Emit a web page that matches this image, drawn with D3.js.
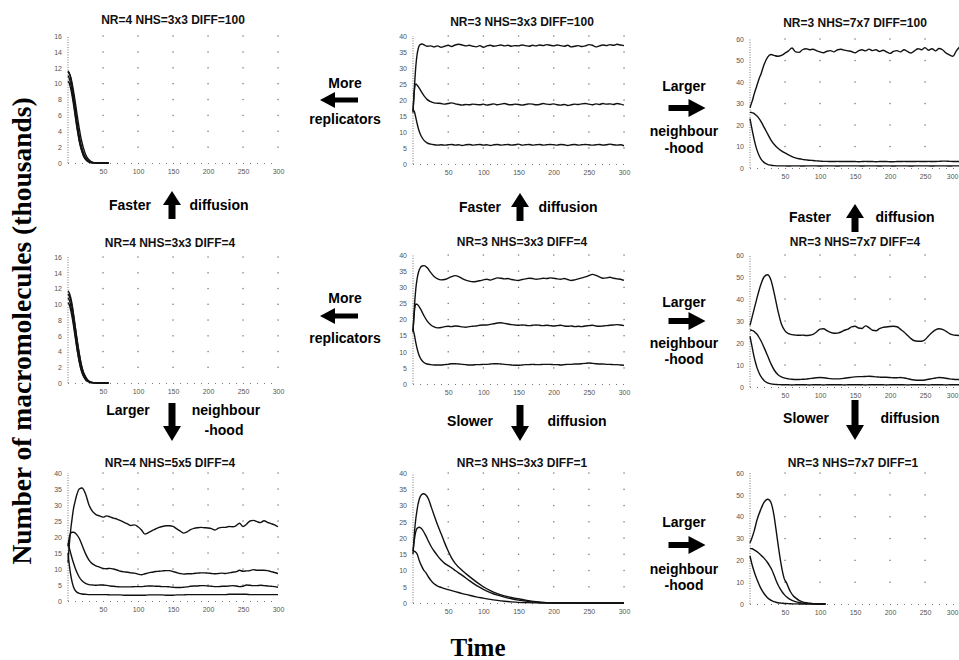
<!DOCTYPE html>
<html><head><meta charset="utf-8">
<script src="https://cdn.jsdelivr.net/npm/d3@7"></script>
<style>
html,body{margin:0;padding:0;background:#fff;}
svg{display:block;}
</style></head>
<body><svg id="fig" width="959" height="660"></svg>
<script>
// ---- axis ticks ----
const timeTicks = [50, 100, 150, 200, 250, 300];
const yTicks16 = [0, 2, 4, 6, 8, 10, 12, 14, 16];
const yTicks40 = [0, 5, 10, 15, 20, 25, 30, 35, 40];
const yTicks60 = [0, 10, 20, 30, 40, 50, 60];

// ---- sample times ----
const tDie = [0,2,4,6,8,10,12,14,16,18,20,22,25,28,32,36,40,45,50,58];
const tRun = [0,2,4,6,8,10,13,16,20,25,30,35,40,
  45,50,55,60,65,70,75,80,85,90,
  95,100,105,110,115,120,125,130,135,140,
  145,150,155,160,165,170,175,180,185,190,
  195,200,205,210,215,220,225,230,235,240,
  245,250,255,260,265,270,275,280,285,290,295,300];
const tDecay3 = [0,3,6,9,12,15,18,22,26,30,35,40,45,50,55,60,70,80,90,100,110,120,130,140,150,160,175,190,200,250,300];
const tDecay7 = [0,3,6,10,15,20,25,28,31,34,37,40,43,46,49,52,55,58,62,66,70,75,80,85,90,100,108];

// ---- NR=4 NHS=3x3 DIFF=100 ----
const r4d100a = [11.6,11.3,10.6,9.6,8.4,7.1,5.8,4.6,3.5,2.6,1.9,1.3,0.7,0.35,0.12,0.04,0.02,0,0,0];
const r4d100b = [11.5,11.2,10.8,10.0,9.0,7.9,6.7,5.5,4.4,3.4,2.6,1.9,1.1,0.6,0.25,0.08,0.03,0.01,0,0];
const r4d100c = [11.0,10.6,9.9,8.9,7.7,6.4,5.1,3.9,2.9,2.1,1.5,1.0,0.5,0.25,0.08,0.03,0.01,0,0,0];
const r4d100d = [10.3,10.0,9.3,8.4,7.3,6.1,4.9,3.8,2.8,2.0,1.4,0.9,0.45,0.2,0.06,0.02,0,0,0,0];

// ---- NR=3 NHS=3x3 DIFF=100 ----
const r3d100a = [16.5,24,30.5,34.5,36.5,37.3,37.5,37.2,36.8,36.9,36.6,36.9,36.5,
  36.8,37.1,36.7,37.2,37.4,37.2,36.9,37.1,36.8,36.6,
  37,36.5,36.9,37.1,36.8,37,37.2,36.9,37.1,36.8,
  37,36.9,37.2,37,36.8,37.1,36.9,37.2,37,37.3,
  37.1,36.9,37.2,37,36.8,37.1,36.6,36.8,37,36.7,
  36.9,37.3,37.1,36.6,36.9,37.2,37,37.3,37.1,37.4,37.2,37.0];
const r3d100b = [16,23,25,24.6,24,23.3,22.2,21.2,20.2,19.5,19.1,19,18.9,
  18.7,18.9,19.1,18.8,18.6,18.4,18.6,18.5,18.7,18.6,
  18.5,18.7,18.4,18.6,18.8,18.5,18.7,18.9,18.6,18.5,
  18.7,18.6,18.4,18.6,18.8,18.7,18.5,18.6,18.9,18.7,
  18.6,18.8,18.5,18.4,18.6,18.3,18.5,18.7,18.6,18.8,
  18.9,18.7,18.5,18.8,18.6,18.9,18.7,18.8,18.6,18.9,18.7,18.4];
const r3d100c = [17,16.3,14.5,12.5,10.8,9.5,8.2,7.3,6.6,6.2,6,5.9,6,
  5.9,6,6.1,5.9,6,5.8,6,6.1,5.9,6,
  6.1,5.9,6,5.8,6,6.1,5.9,6,6.1,5.9,
  6,6.2,5.9,6,6.1,5.9,6,6.1,5.9,6,
  6.1,6,5.9,6.1,6,5.8,6,6.1,5.9,6,
  6.1,6,5.9,6,6.1,5.9,6,6.2,6,5.9,6,5.7];

// ---- NR=3 NHS=7x7 DIFF=100 ----
const n7d100a = [28,30,32,34.5,36.5,38.5,41.5,44,48,51.5,52.8,52.3,52,
  52.4,53.4,54.5,55.8,54,53.8,55,55.5,55,55.2,
  54.6,54,53.6,54.3,54.6,54,55,55.2,54.8,54.5,
  54.2,53.6,54.5,55,54.5,55.3,54.6,55,54.2,54.8,
  54,53.3,54.2,54.6,54,55,54.2,53.5,54.5,55.5,
  55,56,54.8,55.5,54.5,55.6,55,53.5,52.6,52,54.6,56.5];
const n7d100b = [26,25.8,25.6,25.3,24.8,24.2,23,21.5,19,16,13,10.8,9.2,
  8,7,6.1,5.3,4.7,4.3,4,3.8,3.6,3.5,
  3.3,3.2,3.1,3.1,3,3,3.1,3,3,3,
  3,3,2.9,3,3.1,3,3,2.9,3,3,
  3,2.9,2.9,3,3,3.1,3,3,3,3.1,
  3,3,3.1,3,3,3.1,3.2,3.2,3.1,3,3,3];
const n7d100c = [23,19.5,16.2,13.2,10.5,8.3,5.8,4,2.6,1.7,1.3,1.1,1,
  1,1,0.9,1,1,1,0.9,1,1,1,
  1,0.9,1,1,1,1,0.9,1,1,1,
  1,1,1,0.9,1,1,1,1,0.9,1,
  1,1,0.9,1,1,1,1,0.9,1,1,
  1,1,1,0.9,1,1,1,1,0.9,1,1,1];

// ---- NR=4 NHS=3x3 DIFF=4 ----
const r4d4a = [11.7,11.4,10.8,9.9,8.7,7.4,6.1,4.9,3.8,2.8,2.0,1.4,0.8,0.4,0.15,0.05,0.02,0.01,0,0];
const r4d4b = [11.3,11.0,10.5,9.6,8.5,7.3,6.0,4.8,3.7,2.7,1.9,1.3,0.75,0.38,0.14,0.05,0.02,0,0,0];
const r4d4c = [10.8,10.5,9.8,8.8,7.6,6.3,5.0,3.8,2.8,2.0,1.4,0.95,0.5,0.24,0.08,0.03,0.01,0,0,0];
const r4d4d = [10.2,9.9,9.2,8.3,7.2,6.0,4.8,3.7,2.7,1.9,1.3,0.85,0.42,0.19,0.06,0.02,0,0,0,0];

// ---- NR=3 NHS=3x3 DIFF=4 ----
const r3d4a = [16,24,29.5,32.8,34.8,35.9,36.6,36.7,36.1,34.6,33.3,32.6,32.3,
  32.4,32.8,33.3,33.6,33.3,32.7,32.2,31.9,31.7,31.8,
  32,32.3,32.5,32.2,32.6,32.9,32.8,32.6,32.7,32.4,
  32.2,32.1,32.4,32.6,32.8,32.7,32.5,32.6,32.8,32.7,
  32.9,32.8,32.6,32.5,32.7,32.4,32.1,32.3,32.6,32.9,
  33.2,33.6,34,33.7,33.2,32.8,32.9,33.1,32.8,32.6,32.5,32.1];
const r3d4b = [16.5,22.5,24.8,24.7,24.2,23.5,22.3,21,19.6,18.4,17.7,17.4,17.5,
  17.8,17.9,17.8,18,17.9,17.7,17.6,17.8,17.9,18,
  18.2,18.3,18.3,18.5,18.7,18.9,19,18.8,18.6,18.4,
  18.3,18.2,18.3,18.2,18.1,18.2,18.3,18.2,18.1,18.2,
  18.1,18,18.1,18.2,18,17.9,18,17.8,17.9,17.8,
  18,18.1,18.2,18,17.9,18,18.1,18.2,18.3,18.4,18.3,18.1];
const r3d4c = [17,15.2,12.8,10.8,9.3,8.2,7.2,6.6,6.2,6,5.9,5.9,5.9,
  6,6.1,6.3,6.3,6.2,6.1,6,5.9,5.9,6,
  6,6.1,6.1,6.2,6.3,6.3,6.2,6.1,6,5.9,
  5.8,5.8,5.9,6,6,6.1,6,6,6.1,6.1,
  6.1,6,6,5.9,6,6.1,6.1,6.2,6.2,6.3,
  6.4,6.5,6.4,6.3,6.2,6.2,6.1,6.1,6,6,5.9,5.8];

// ---- NR=3 NHS=7x7 DIFF=4 ----
const n7d4a = [28,30.5,33,35.5,38,40.5,44,47,50,51,48.5,42,34.5,
  28.5,25.5,24.3,23.8,23.6,23.5,23.6,23.4,23.5,23.9,
  25,26.3,26.5,25.6,24.8,24.4,24.5,25,25.8,26.3,
  27.3,27.6,26.8,26.6,27.8,27,25.8,25.6,26.5,27.1,
  27.3,27.5,27.6,27.4,26.2,25,23.5,22,21,20.8,
  20.8,21.5,23.2,24.8,26,26.5,26.2,25.3,24.3,23.7,23.5,23.4];
const n7d4b = [26,25.8,25.6,25.2,24.6,24,22.5,20.8,18,14.3,10.5,7.5,5.6,
  4.6,4,3.7,3.5,3.4,3.4,3.5,3.6,3.8,4,
  4.2,4.3,4.2,4,3.8,3.7,3.7,3.8,4,4.2,
  4.4,4.6,4.7,4.7,4.8,4.9,4.8,4.6,4.5,4.4,
  4.4,4.3,4.2,4.2,4.3,4.1,3.8,3.4,3.2,3.1,
  3.1,3.2,3.5,3.8,4.1,4.3,4.2,4,3.7,3.5,3.4,3.4];
const n7d4c = [23,19.8,16.5,13.5,11,8.8,6.4,4.6,3,1.9,1.4,1.2,1.1,
  1,1,1,0.9,1,1,1,1,0.9,1,
  1,1,0.9,1,1,1,1,1,0.9,1,
  1,1,1,1,0.9,1,1,1,1,1,
  0.9,1,1,1,1,1,0.9,1,1,1,
  1,1,0.9,1,1,1,1,0.9,1,1,1,1];

// ---- NR=4 NHS=5x5 DIFF=4 ----
const r4n5a = [12,18,22.5,26,29,31,33.5,35,35.3,33.5,30,28,27,
  26.6,26.2,26.6,26.3,25.9,25.6,25.1,24.6,24.1,23.6,
  23.8,23.2,22.2,20.9,21.4,22,22.5,23,23.3,23.5,
  23.5,23.3,22.6,21.9,21.2,21.6,22.3,22.7,22.9,23.0,
  22.9,22.8,22.6,22.2,22.8,23,23,23.3,23.2,23.5,
  24.3,23.3,24,25,25.2,24.8,24.5,25.1,24.6,24.2,23.8,23.2];
const r4n5b = [17,20,21.2,21.5,21.5,21.3,20.6,19.6,17.5,14.8,12.8,11.6,11,
  10.6,10.2,10.1,10.2,10,9.7,9.3,9.1,9,8.8,
  8.7,8.4,8.2,8.5,8.8,9,9.2,9.3,9.4,9.5,
  9.5,9.2,8.9,8.6,8.4,8.5,8.5,8.6,8.7,8.8,
  8.8,8.7,8.6,8.5,8.6,8.7,8.6,8.8,9,9.1,
  9.6,9.3,9.4,9.5,9.8,9.6,9.6,9.6,9.5,9.2,8.9,8.6];
const r4n5c = [18,16.5,14.8,13.2,11.8,10.5,8.8,7.5,6.3,5.5,5.1,5,4.9,
  5,5,4.9,4.7,4.6,4.5,4.4,4.4,4.4,4.4,
  4.5,4.5,4.5,4.6,4.7,4.7,4.6,4.6,4.5,4.5,
  4.4,4.3,4.2,4.2,4.3,4.4,4.6,4.7,4.7,4.8,
  4.8,4.7,4.6,4.5,4.5,4.6,4.6,4.7,4.8,4.7,
  4.5,4.6,5,4.9,4.8,4.8,4.9,4.8,4.7,4.6,4.5,4.3];
const r4n5d = [15,11,8,5.8,4.3,3.4,2.7,2.4,2.2,2.1,2,2,2,
  2,2,2,1.9,1.9,1.9,1.9,1.8,1.8,1.8,
  1.8,1.8,1.8,1.8,1.9,1.9,1.9,1.9,1.9,1.8,
  1.8,1.8,1.9,1.9,1.9,2,2,2,2,2,
  2,2,2,2,2,2,2,2.1,2.1,2.1,
  2.1,2.1,2.1,2,2,2,2,2,2,2,2,2];

// ---- NR=3 NHS=3x3 DIFF=1 ----
const r3d1a = [15,24,29,32,33.3,33.6,33.3,32,29.5,27,24,21.3,18.5,16,13.8,12.2,10,8.2,6.5,5,3.8,2.9,2.2,1.7,1.3,0.9,0.4,0.1,0.03,0,0];
const r3d1b = [16,21,23,23.3,22.9,22,20.8,19,17.3,16,14.5,13.2,12.2,11.5,10.8,10,8.5,6.9,5.4,4.2,3.2,2.4,1.8,1.3,0.9,0.6,0.25,0.05,0.01,0,0];
const r3d1c = [16,15.8,15,13,11.5,10.2,9.4,8,6.8,5.9,5.2,4.8,4.4,4.1,3.8,3.5,2.9,2.4,1.9,1.5,1.1,0.8,0.55,0.35,0.2,0.1,0.03,0,0,0,0];

// ---- NR=3 NHS=7x7 DIFF=1 ----
const n7d1a = [28,30.5,33.5,38.5,43,46.5,48,47.5,45.5,41,34.5,27.5,21,15.5,11.5,9.8,7.5,5.5,3.7,2.6,1.7,1,0.6,0.35,0.15,0.02,0];
const n7d1b = [25.5,25.3,24.8,24,22.6,21,19,17.5,15.8,13.5,11,8.8,7,5.5,4.3,3.3,2.6,2,1.4,1,0.7,0.4,0.25,0.15,0.08,0.02,0];
const n7d1c = [22,18,14.8,11.2,7.5,4.8,2.9,2.1,1.5,1.1,0.8,0.6,0.45,0.35,0.25,0.2,0.15,0.1,0.07,0.05,0.03,0.02,0.01,0,0,0,0];

// ---- panel contents ----
const panels = [
  {title: "NR=4 NHS=3x3 DIFF=100", time: tDie,   series: [r4d100a, r4d100b, r4d100c, r4d100d], yMax: 16, yTicks: yTicks16, col: 0, row: 0},
  {title: "NR=3 NHS=3x3 DIFF=100", time: tRun,   series: [r3d100a, r3d100b, r3d100c],         yMax: 40, yTicks: yTicks40, col: 1, row: 0},
  {title: "NR=3 NHS=7x7 DIFF=100", time: tRun,   series: [n7d100a, n7d100b, n7d100c],         yMax: 60, yTicks: yTicks60, col: 2, row: 0},
  {title: "NR=4 NHS=3x3 DIFF=4",   time: tDie,   series: [r4d4a, r4d4b, r4d4c, r4d4d],         yMax: 16, yTicks: yTicks16, col: 0, row: 1},
  {title: "NR=3 NHS=3x3 DIFF=4",   time: tRun,   series: [r3d4a, r3d4b, r3d4c],               yMax: 40, yTicks: yTicks40, col: 1, row: 1},
  {title: "NR=3 NHS=7x7 DIFF=4",   time: tRun,   series: [n7d4a, n7d4b, n7d4c],               yMax: 60, yTicks: yTicks60, col: 2, row: 1},
  {title: "NR=4 NHS=5x5 DIFF=4",   time: tRun,   series: [r4n5a, r4n5b, r4n5c, r4n5d],         yMax: 40, yTicks: yTicks40, col: 0, row: 2},
  {title: "NR=3 NHS=3x3 DIFF=1",   time: tDecay3, series: [r3d1a, r3d1b, r3d1c],              yMax: 40, yTicks: yTicks40, col: 1, row: 2},
  {title: "NR=3 NHS=7x7 DIFF=1",   time: tDecay7, series: [n7d1a, n7d1b, n7d1c],              yMax: 60, yTicks: yTicks60, col: 2, row: 2}
];

// ---- page geometry ----
const colX = [[68, 278], [413, 624], [750, 960]];           // x of t=0 and t=300
const plotY = [                                              // [y of 0, y of max] per row/col
  [[163, 36], [164, 36], [168, 39]],
  [[383, 257], [384, 255], [387, 255]],
  [[601, 473], [603, 473], [604, 473]]
];
const titlePos = [
  [[173, 24], [522, 26], [855, 27]],
  [[170, 247], [522, 246], [855, 246]],
  [[170, 467], [522, 467], [853, 467]]
];

const svg = d3.select("#fig");
svg.append("rect").attr("width", 959).attr("height", 660).attr("fill", "#fff");

const sans = "'Liberation Sans', Arial, Helvetica, sans-serif";

panels.forEach(p => {
  const [xa, xb] = colX[p.col];
  const [yb, yt] = plotY[p.row][p.col];
  const x = d3.scaleLinear().domain([0, 300]).range([xa, xb]);
  const y = d3.scaleLinear().domain([0, p.yMax]).range([yb, yt]);
  const g = svg.append("g");

  // dotted axis lines
  g.append("line").attr("x1", x(0)).attr("x2", x(0)).attr("y1", y(0)).attr("y2", y(p.yMax))
    .attr("stroke", "#777").attr("stroke-width", 1).attr("stroke-dasharray", "1,1.5");
  g.append("line").attr("x1", x(0)).attr("x2", x(300)).attr("y1", y(0) + 0.5).attr("y2", y(0) + 0.5)
    .attr("stroke", "#777").attr("stroke-width", 1).attr("stroke-dasharray", "1,6");

  // grid dots at tick crossings
  const dots = [];
  timeTicks.forEach(tx => p.yTicks.forEach(ty => { if (ty > 0) dots.push([tx, ty]); }));
  g.selectAll(".dot").data(dots).join("rect")
    .attr("x", d => x(d[0]) - 0.6).attr("y", d => y(d[1]) - 0.6)
    .attr("width", 1.3).attr("height", 1.3).attr("fill", "#777");

  // tick labels via d3 axes
  const ax = g.append("g").attr("transform", `translate(0,${y(0)})`)
    .call(d3.axisBottom(x).tickValues(timeTicks).tickSize(0).tickPadding(6));
  const ay = g.append("g").attr("transform", `translate(${x(0)},0)`)
    .call(d3.axisLeft(y).tickValues(p.yTicks).tickSize(0).tickPadding(6));
  [ax, ay].forEach(a => {
    a.select(".domain").remove();
    a.selectAll("text").attr("font-family", sans).attr("font-size", 7).attr("fill", "#555");
  });
  // the right-hand column runs to the page edge: keep its last time label inside
  if (xb > 955) {
    ax.selectAll(".tick").filter(d => d === 300).select("text")
      .attr("text-anchor", "end").attr("x", 958 - xb);
  }

  // series
  const line = d3.line().x((d, i) => x(p.time[i])).y(d => y(d)).curve(d3.curveMonotoneX);
  p.series.forEach(s => {
    g.append("path").attr("d", line(s)).attr("fill", "none")
      .attr("stroke", "#111").attr("stroke-width", 1.4).attr("stroke-linejoin", "round");
  });

  // title
  const [tx, ty] = titlePos[p.row][p.col];
  svg.append("text").attr("x", tx).attr("y", ty).attr("text-anchor", "middle")
    .attr("font-family", sans).attr("font-weight", "bold").attr("font-size", 12)
    .attr("fill", "#111").text(p.title);
});

// ---- block arrows between panels ----
function arrowPath(cx, cy, dir, len, shaftW, headW, headL) {
  // shape built pointing right, then rotated
  const h = len / 2, s = shaftW / 2, w = headW / 2;
  const pts = [[-h, -s], [h - headL, -s], [h - headL, -w], [h, 0], [h - headL, w], [h - headL, s], [-h, s]];
  const ang = {right: 0, down: 90, left: 180, up: -90}[dir] * Math.PI / 180;
  return "M" + pts.map(([px, py]) => [cx + px * Math.cos(ang) - py * Math.sin(ang), cy + px * Math.sin(ang) + py * Math.cos(ang)].join(",")).join("L") + "Z";
}
const arrows = [
  [339, 100, "left", 38, 5, 16, 15], [339, 316, "left", 38, 5, 16, 15],
  [687, 108, "right", 37, 6, 18, 17], [687, 321, "right", 37, 6, 18, 17], [687, 545, "right", 37, 6, 18, 17],
  [172, 205, "up", 28, 7, 18, 14], [520, 207, "up", 28, 7, 18, 14], [855, 218, "up", 28, 7, 18, 14],
  [172, 422, "down", 38, 7, 18, 15], [520, 423, "down", 36, 7, 18, 15], [855, 420, "down", 40, 7, 18, 15]
];
arrows.forEach(a => svg.append("path").attr("d", arrowPath(...a)).attr("fill", "#000"));

const notes = [
  ["More", 345, 88], ["replicators", 345, 124],
  ["More", 345, 303], ["replicators", 345, 343],
  ["Larger", 684, 91], ["neighbour", 684, 136], ["-hood", 684, 153],
  ["Larger", 684, 307], ["neighbour", 684, 348], ["-hood", 684, 364],
  ["Larger", 684, 527], ["neighbour", 684, 574], ["-hood", 684, 590],
  ["Faster", 130, 210], ["diffusion", 219, 210],
  ["Faster", 480, 212], ["diffusion", 568, 212],
  ["Faster", 810, 222], ["diffusion", 905, 222],
  ["Larger", 128, 415], ["neighbour", 226, 415], ["-hood", 224, 435],
  ["Slower", 470, 426], ["diffusion", 577, 426],
  ["Slower", 806, 423], ["diffusion", 910, 423]
];
notes.forEach(([t, nx, ny]) => svg.append("text").attr("x", nx).attr("y", ny)
  .attr("text-anchor", "middle").attr("font-family", sans).attr("font-weight", "bold")
  .attr("font-size", 14).attr("fill", "#000").text(t));

// ---- shared axis titles ----
const serif = "'Liberation Serif', 'Times New Roman', Times, serif";
svg.append("text").attr("transform", "translate(31,331) rotate(-90)").attr("text-anchor", "middle")
  .attr("font-family", serif).attr("font-weight", "bold").attr("font-size", 27.5).attr("fill", "#000")
  .text("Number of macromolecules (thousands)");
svg.append("text").attr("x", 478).attr("y", 656).attr("text-anchor", "middle")
  .attr("font-family", serif).attr("font-weight", "bold").attr("font-size", 25).attr("fill", "#000")
  .text("Time");
</script>
</body></html>
